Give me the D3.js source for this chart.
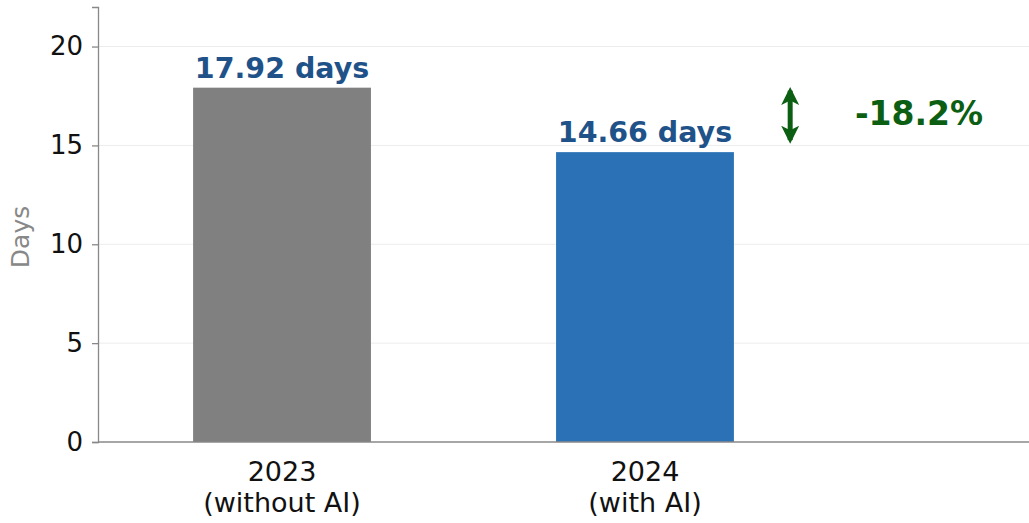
<!DOCTYPE html>
<html>
<head>
<script src="https://cdn.jsdelivr.net/npm/d3@7"></script>
<style>
  body { margin: 0; background: #fff; }
  text { font-family: "DejaVu Sans", sans-serif; }
</style>
</head>
<body>
<div id="chart"></div>
<script>
var categories = ["2023\n(without AI)", "2024\n(with AI)"];
var values = [17.92, 14.66];
var barColors = ["#808080", "#2a72b5"];
var valueLabels = ["17.92 days", "14.66 days"];
var yTicks = [0, 5, 10, 15, 20];
var changeLabel = "-18.2%";

var w = 1029, h = 523;
var mLeft = 98, mRight = 1029, mTop = 7, mBottom = 442;

var svg = d3.select("#chart").append("svg")
  .attr("width", w).attr("height", h);

var x = d3.scaleLinear().domain([-0.507, 2.058]).range([mLeft, mRight]);
var y = d3.scaleLinear().domain([0, 22]).range([mBottom, mTop]);
var barW = 0.49;

// grid
svg.selectAll(".grid").data(yTicks.filter(function(d){ return d > 0; }))
  .enter().append("line")
  .attr("x1", mLeft).attr("x2", mRight)
  .attr("y1", function(d){ return y(d); }).attr("y2", function(d){ return y(d); })
  .attr("stroke", "#ececec").attr("stroke-width", 1);

// bars
svg.selectAll(".bar").data(values).enter().append("rect")
  .attr("x", function(d, i){ return x(i - barW / 2); })
  .attr("width", function(){ return x(barW) - x(0); })
  .attr("y", function(d){ return y(d); })
  .attr("height", function(d){ return y(0) - y(d); })
  .attr("fill", function(d, i){ return barColors[i]; });

// value labels
svg.selectAll(".vl").data(values).enter().append("text")
  .attr("x", function(d, i){ return x(i); })
  .attr("y", function(d){ return y(d) - 10; })
  .attr("text-anchor", "middle")
  .attr("font-size", 28.5).attr("font-weight", "bold")
  .attr("fill", "#1f5289")
  .text(function(d, i){ return valueLabels[i]; });

// axes
var yAxis = d3.axisLeft(y).tickValues(yTicks).tickSize(6).tickPadding(9);
var gy = svg.append("g").attr("transform", "translate(" + mLeft + ",0)").call(yAxis);
gy.select(".domain").attr("stroke", "#888").attr("stroke-width", 1.3);
gy.selectAll(".tick line").attr("stroke", "#888").attr("stroke-width", 1.3);
gy.selectAll(".tick text").attr("font-size", 26).attr("fill", "#111")
  .attr("font-family", "DejaVu Sans, sans-serif");

svg.append("line")
  .attr("x1", mLeft).attr("x2", mRight)
  .attr("y1", mBottom).attr("y2", mBottom)
  .attr("stroke", "#888").attr("stroke-width", 1.3);

// category labels
var cat = svg.selectAll(".cat").data(categories).enter().append("text")
  .attr("text-anchor", "middle")
  .attr("font-size", 27).attr("fill", "#111")
  .attr("transform", function(d, i){ return "translate(" + x(i) + "," + 481 + ")"; });
cat.each(function(d){
  var t = d3.select(this);
  d.split("\n").forEach(function(line, k){
    t.append("tspan").attr("x", 0).attr("dy", k === 0 ? 0 : 31).text(line);
  });
});

// y label
svg.append("text")
  .attr("transform", "translate(29,237) rotate(-90)")
  .attr("text-anchor", "middle")
  .attr("font-size", 25).attr("fill", "#888")
  .text("Days");

// change arrow
var green = "#0b5e12";
var defs = svg.append("defs");
defs.append("marker").attr("id", "head")
  .attr("viewBox", "0 0 10 10").attr("refX", 8).attr("refY", 5)
  .attr("markerWidth", 3.6).attr("markerHeight", 4)
  .attr("markerUnits", "strokeWidth")
  .attr("orient", "auto-start-reverse")
  .append("path").attr("d", "M0,0 L10,5 L0,10 L2.5,5 Z").attr("fill", green);

var ax = x(1.4);
svg.append("line")
  .attr("x1", ax).attr("x2", ax)
  .attr("y1", y(values[0]) + 3).attr("y2", y(values[1]) - 12)
  .attr("stroke", green).attr("stroke-width", 5)
  .attr("marker-start", "url(#head)").attr("marker-end", "url(#head)");

svg.append("text")
  .attr("x", x(1.755)).attr("y", 125)
  .attr("text-anchor", "middle")
  .attr("font-size", 33).attr("font-weight", "bold")
  .attr("fill", green)
  .text(changeLabel);
</script>
</body>
</html>
